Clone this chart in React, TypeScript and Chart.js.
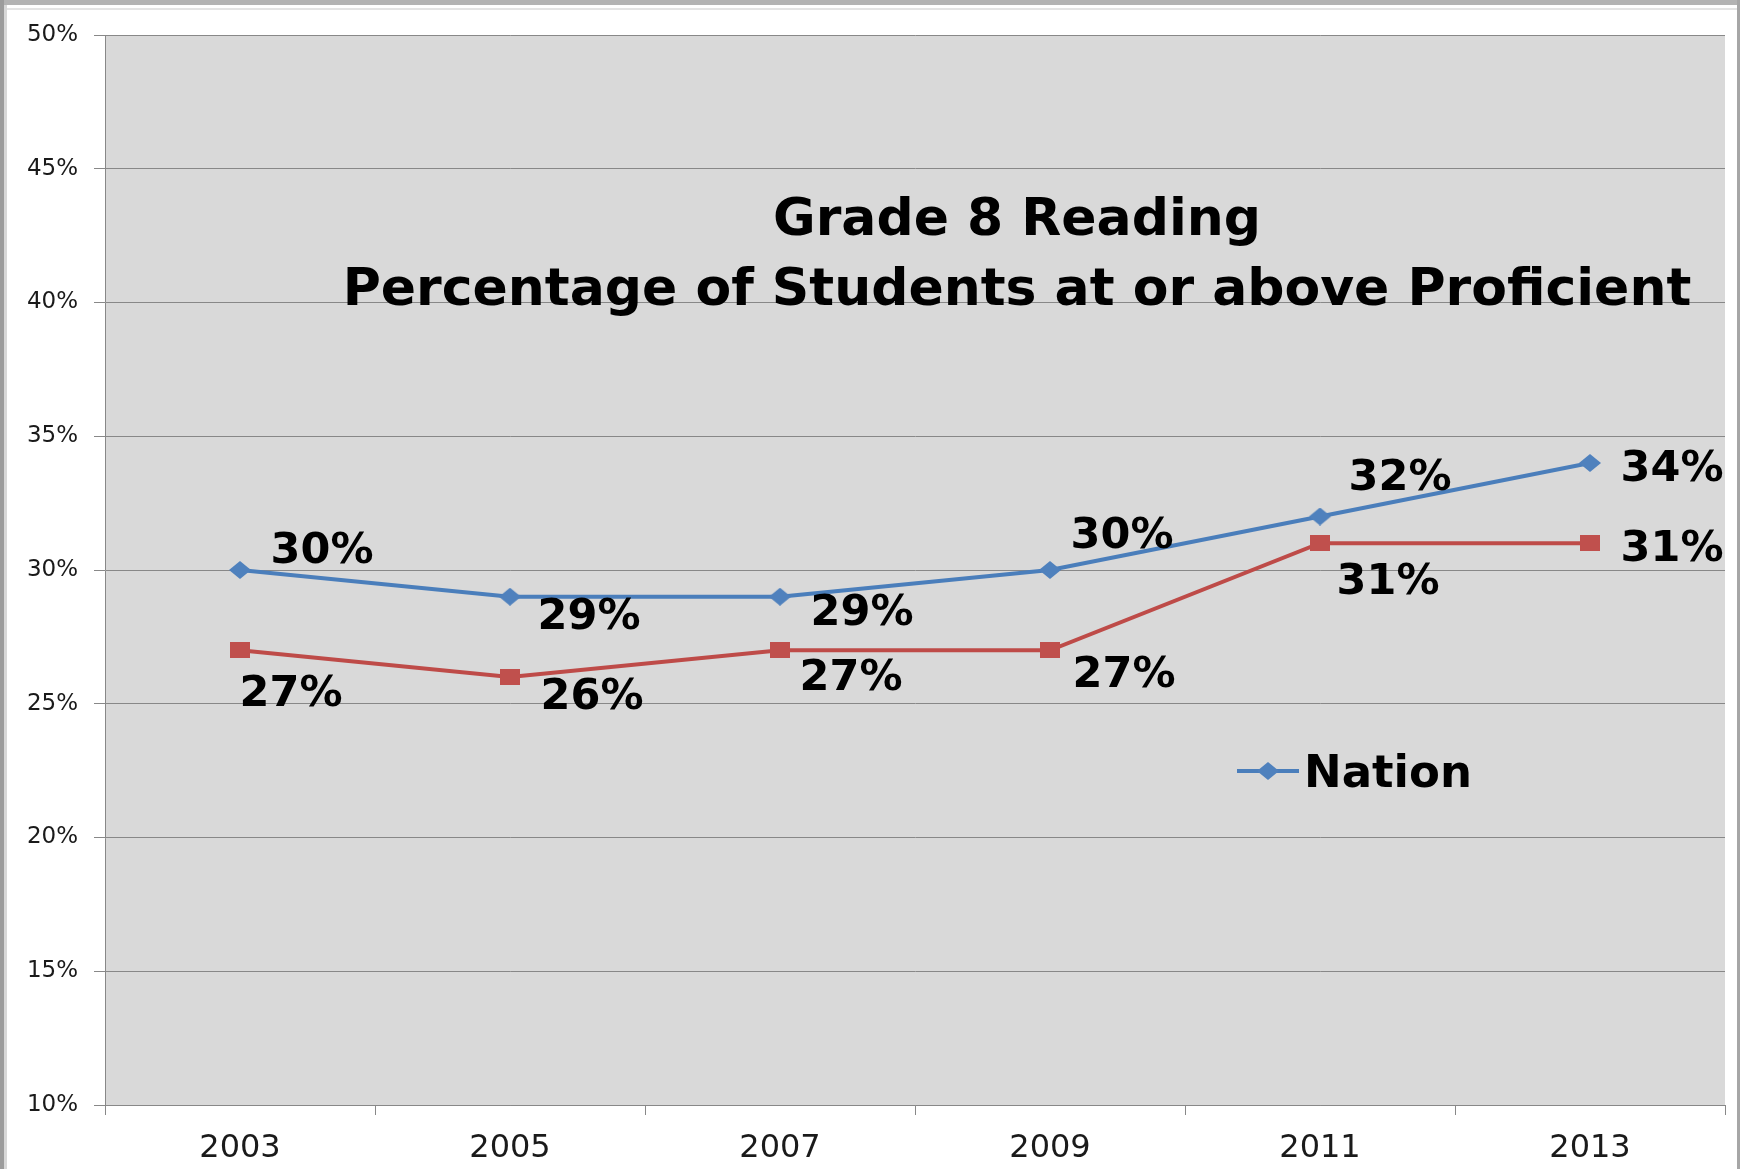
import React, { useEffect, useRef } from 'react';
import { Chart, registerables } from 'chart.js';

Chart.register(...registerables);

// ---- data ----
const years = ['2003', '2005', '2007', '2009', '2011', '2013'];
const nationValues = [30, 29, 29, 30, 32, 34];
const stateValues = [27, 26, 27, 27, 31, 31];
const yMin = 10;
const yMax = 50;
const yStep = 5;
const titleLines = ['Grade 8 Reading', 'Percentage of Students at or above Proficient'];
const legendLabel = 'Nation';

// label placement (offset of label centre from its point, px)
const nationLabelOffsets = [[82, -23], [79, 17], [82, 13], [72, -38], [80, -42], [82, 2]];
const stateLabelOffsets = [[51, 40], [82, 16], [71, 24], [74, 21], [68, 35], [82, 2]];

const BLUE = '#4A7EBB';
const BLUE_M = '#4F81BD';
const RED = '#BE4B48';
const RED_M = '#C0504D';
const GRID = '#888888';
const FONT = "'DejaVu Sans', Verdana, sans-serif";

function makeDiamond(w: number, h: number, color: string) {
  const c = document.createElement('canvas');
  c.width = w;
  c.height = h;
  const g = c.getContext('2d')!;
  g.fillStyle = color;
  g.beginPath();
  g.moveTo(w / 2, 0);
  g.lineTo(w, h / 2);
  g.lineTo(w / 2, h);
  g.lineTo(0, h / 2);
  g.closePath();
  g.fill();
  return c;
}

function makeRect(w: number, h: number, color: string) {
  const c = document.createElement('canvas');
  c.width = w;
  c.height = h;
  const g = c.getContext('2d')!;
  g.fillStyle = color;
  g.fillRect(0, 0, w, h);
  return c;
}

export default function App() {
  const ref = useRef<HTMLCanvasElement | null>(null);

  useEffect(() => {
    document.body.style.margin = '0';
    const canvas = ref.current!;
    const diamond = makeDiamond(22, 18, BLUE_M);
    const square = makeRect(20, 16, RED_M);

    const framePlugin = {
      id: 'frame',
      beforeDraw(chart: any) {
        const { ctx, width, height, chartArea } = chart;
        ctx.save();
        ctx.fillStyle = '#ffffff';
        ctx.fillRect(0, 0, width, height);
        // outer frame
        ctx.fillStyle = '#b3b3b3';
        ctx.fillRect(0, 0, width, 5);
        ctx.fillStyle = '#9c9c9c';
        ctx.fillRect(0, 0, 4, height);
        ctx.fillStyle = '#d8d8d8';
        ctx.fillRect(4, 5, 3, height - 5);
        ctx.fillStyle = '#a6a6a6';
        ctx.fillRect(width - 3, 0, 3, height);
        ctx.fillStyle = '#e4e4e4';
        ctx.fillRect(7, 8, width - 10, 2);
        // plot background
        ctx.fillStyle = '#D9D9D9';
        ctx.fillRect(chartArea.left, chartArea.top, chartArea.right - chartArea.left, chartArea.bottom - chartArea.top);
        ctx.restore();
      },
    };

    const labelPlugin = {
      id: 'labels',
      afterDatasetsDraw(chart: any) {
        const { ctx } = chart;
        const size = 43;
        ctx.save();
        ctx.font = `bold ${size}px ${FONT}`;
        ctx.fillStyle = '#000000';
        ctx.textAlign = 'center';
        ctx.textBaseline = 'alphabetic';
        const sets = [
          { values: nationValues, offs: nationLabelOffsets },
          { values: stateValues, offs: stateLabelOffsets },
        ];
        sets.forEach((s, di) => {
          const meta = chart.getDatasetMeta(di);
          meta.data.forEach((el: any, i: number) => {
            const [dx, dy] = s.offs[i];
            ctx.fillText(`${s.values[i]}%`, el.x + dx, el.y + dy + 0.365 * size);
          });
        });
        ctx.restore();
      },
      afterDraw(chart: any) {
        const { ctx, chartArea } = chart;
        const L = chartArea.left;
        const T = chartArea.top;
        ctx.save();
        // title
        ctx.fillStyle = '#000000';
        ctx.textAlign = 'center';
        ctx.textBaseline = 'alphabetic';
        ctx.font = `bold 52px ${FONT}`;
        ctx.fillText(titleLines[0], L + 912, T + 200);
        ctx.fillText(titleLines[1], L + 912, T + 270);
        // legend
        const ly = T + 736;
        ctx.strokeStyle = BLUE;
        ctx.lineWidth = 4;
        ctx.beginPath();
        ctx.moveTo(L + 1132, ly);
        ctx.lineTo(L + 1194, ly);
        ctx.stroke();
        ctx.drawImage(diamond, L + 1163 - 11, ly - 9);
        ctx.font = `bold 45px ${FONT}`;
        ctx.textAlign = 'left';
        ctx.fillText(legendLabel, L + 1199, ly + 16);
        ctx.restore();
      },
    };

    const chart = new Chart(canvas, {
      type: 'line',
      data: {
        labels: years,
        datasets: [
          {
            label: 'Nation',
            data: nationValues,
            borderColor: BLUE,
            backgroundColor: BLUE_M,
            borderWidth: 4,
            pointStyle: diamond as any,
            pointRadius: 10,
            tension: 0,
          },
          {
            label: 'State',
            data: stateValues,
            borderColor: RED,
            backgroundColor: RED_M,
            borderWidth: 4,
            pointStyle: square as any,
            pointRadius: 10,
            tension: 0,
          },
        ],
      },
      options: {
        responsive: false,
        animation: false,
        devicePixelRatio: 1,
        layout: { padding: { top: 35, right: 15, left: 0, bottom: 0 } },
        plugins: {
          legend: { display: false },
          title: { display: false },
          tooltip: { enabled: false },
        },
        scales: {
          x: {
            type: 'category',
            offset: true,
            grid: {
              offset: true,
              drawOnChartArea: false,
              drawTicks: true,
              tickLength: 10,
              color: GRID,
              lineWidth: 1,
            },
            border: { display: true, color: GRID, width: 1 },
            ticks: {
              color: '#1a1a1a',
              font: { family: FONT, size: 32 },
              padding: 14,
              maxRotation: 0,
            },
            afterFit(scale: any) {
              scale.height = 64;
            },
          },
          y: {
            min: yMin,
            max: yMax,
            grid: {
              color: GRID,
              lineWidth: 1,
              drawTicks: true,
              tickLength: 11,
            },
            border: { display: true, color: GRID, width: 1 },
            ticks: {
              stepSize: yStep,
              color: '#1a1a1a',
              font: { family: FONT, size: 23 },
              padding: 16,
              callback: (v: any) => `${v}%`,
            },
            afterFit(scale: any) {
              scale.width = 105;
            },
          },
        },
      },
      plugins: [framePlugin, labelPlugin],
    });

    return () => chart.destroy();
  }, []);

  return (
    <div style={{ width: 1740, height: 1169 }}>
      <canvas ref={ref} width={1740} height={1169} style={{ display: 'block' }} />
    </div>
  );
}
